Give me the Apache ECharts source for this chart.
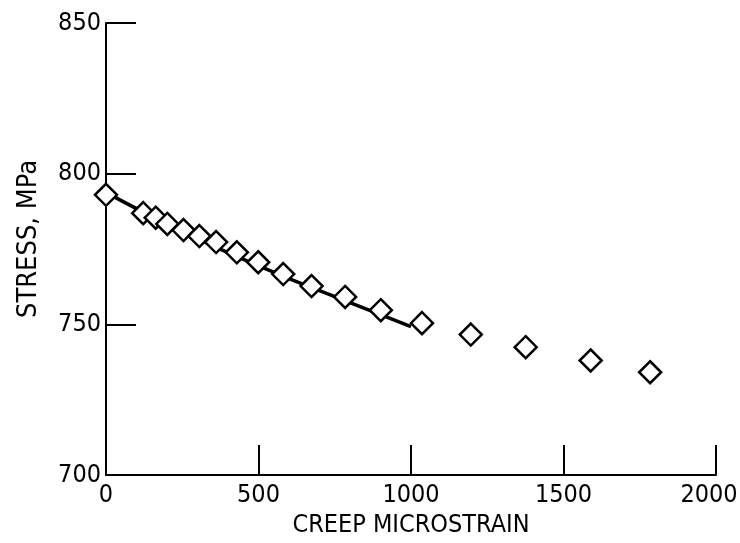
<!DOCTYPE html>
<html>
<head>
<meta charset="utf-8">
<script src="https://cdn.jsdelivr.net/npm/echarts@6/dist/echarts.min.js"></script>
<style>
    html, body { margin: 0; padding: 0; background: #fff; }
    #chart { width: 740px; height: 543px; }
</style>
</head>
<body>
<div id="chart"></div>
<script>
// 测量点 (creep microstrain, stress MPa)
const strainPoints = [0, 122, 163, 201, 254, 306, 361, 429, 499, 581, 674, 784, 901, 1036, 1196, 1376, 1589, 1784];
const stressPoints = [793, 786.9, 785.4, 783.3, 781.3, 779.3, 777.3, 773.9, 770.6, 766.7, 762.7, 759.1, 754.7, 750.4, 746.6, 742.4, 738, 734.1];

// 拟合曲线
const curveStrain = [0, 100, 200, 300, 400, 500, 600, 700, 800, 900, 1000];
const curveStress = [793.8, 788.4, 783.3, 778.4, 773.8, 769.4, 765.2, 761.2, 757.2, 753.2, 749.2];

const xTicks = [0, 500, 1000, 1500, 2000];
const yTicks = [700, 750, 800, 850];

const font = "'DejaVu Sans Condensed', sans-serif";
const ink = '#000';

const chart = echarts.init(document.getElementById('chart'));

const commonAxis = {
    axisLine: { show: true, onZero: false, lineStyle: { color: ink, width: 2 } },
    axisTick: { show: true, inside: true, length: 30, lineStyle: { color: ink, width: 2 } },
    splitLine: { show: false }
};

chart.setOption({
    animation: false,
    backgroundColor: '#fff',
    grid: {
        left: 106,
        right: 24,
        top: 23,
        bottom: 68,
        outerBoundsMode: 'none',
        containLabel: false
    },
    xAxis: Object.assign({}, commonAxis, {
        type: 'value',
        min: xTicks[0],
        max: xTicks[xTicks.length - 1],
        interval: 500,
        name: 'CREEP MICROSTRAIN',
        nameLocation: 'middle',
        nameGap: 37,
        nameTextStyle: { color: ink, fontFamily: font, fontSize: 25 },
        axisLabel: {
            color: ink, fontFamily: font, fontSize: 25, margin: 8,
            // 最后一个标签稍微左移, 避免被裁切
            formatter: v => v === xTicks[xTicks.length - 1] ? '{r|' + v + '}' : String(v),
            rich: { r: { fontFamily: font, fontSize: 25, color: ink, padding: [0, 14, 0, 0] } }
        }
    }),
    yAxis: Object.assign({}, commonAxis, {
        type: 'value',
        min: yTicks[0],
        max: yTicks[yTicks.length - 1],
        interval: 50,
        name: 'STRESS, MPa',
        nameLocation: 'middle',
        nameGap: 64,
        nameTextStyle: { color: ink, fontFamily: font, fontSize: 27, padding: [0, 0, 0, 20] },
        axisLabel: { color: ink, fontFamily: font, fontSize: 25, margin: 5, formatter: v => String(v) }
    }),
    series: [
        {
            type: 'line',
            data: curveStrain.map((x, i) => [x, curveStress[i]]),
            showSymbol: false,
            smooth: true,
            lineStyle: { color: ink, width: 3.5 },
            z: 2
        },
        {
            type: 'scatter',
            data: strainPoints.map((x, i) => [x, stressPoints[i]]),
            symbol: 'diamond',
            symbolSize: 22,
            itemStyle: { color: '#fff', opacity: 1, borderColor: ink, borderWidth: 2.5 },
            emphasis: { disabled: true },
            z: 3
        }
    ]
});
</script>
</body>
</html>
